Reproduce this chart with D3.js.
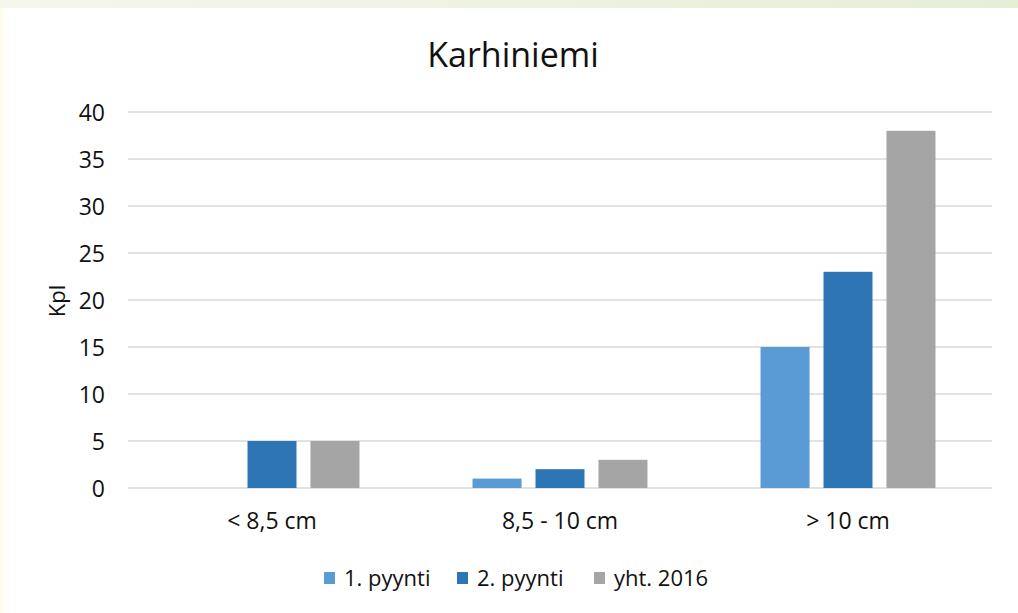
<!DOCTYPE html>
<html>
<head>
<meta charset="utf-8">
<script src="https://cdn.jsdelivr.net/npm/d3@7"></script>
<style>
  body { margin: 0; background: #fff; }
  text { font-family: "Open Sans", "Noto Sans", sans-serif; fill: #111; }
</style>
</head>
<body>
<svg id="canvas" width="1018" height="613"></svg>
<script>
const categories = ["< 8,5 cm", "8,5 - 10 cm", "> 10 cm"];
const seriesNames = ["1. pyynti", "2. pyynti", "yht. 2016"];
const seriesColors = ["#5b9bd5", "#2e75b6", "#a5a5a5"];
const pyynti1 = [0, 1, 15];
const pyynti2 = [5, 2, 23];
const yht2016 = [5, 3, 38];
const yTicks = [0, 5, 10, 15, 20, 25, 30, 35, 40];

const seriesValues = [pyynti1, pyynti2, yht2016];

const canvas = d3.select("#canvas");

// top band and left strip of the slide
const grad = canvas.append("defs").append("linearGradient").attr("id", "band");
grad.append("stop").attr("offset", "0%").attr("stop-color", "#f5f6ee");
grad.append("stop").attr("offset", "100%").attr("stop-color", "#e7eed6");
canvas.append("rect").attr("x", 0).attr("y", 0).attr("width", 1018).attr("height", 8).attr("fill", "url(#band)");
canvas.append("rect").attr("x", 0).attr("y", 8).attr("width", 3).attr("height", 605).attr("fill", "#fffde9");

const x0 = d3.scaleBand().domain(categories).range([128, 992]).paddingInner(0.344).paddingOuter(0.172);
const x1 = d3.scaleBand().domain(seriesNames).range([0, x0.bandwidth()]).paddingInner(0.222).paddingOuter(0.111);
const y = d3.scaleLinear().domain([0, 40]).range([488, 112]);

// gridlines
canvas.append("g")
  .selectAll("line")
  .data(yTicks)
  .enter()
  .append("line")
  .attr("x1", 128)
  .attr("x2", 992)
  .attr("y1", (d) => y(d))
  .attr("y2", (d) => y(d))
  .attr("stroke", "#d9d9d9")
  .attr("stroke-width", 1.5);

// y axis labels
const yAxis = d3.axisLeft(y).tickValues(yTicks).tickSize(0).tickPadding(0);
const yG = canvas.append("g").attr("transform", "translate(105,0)").call(yAxis);
yG.select(".domain").remove();
yG.selectAll("text").style("font-size", "23px").attr("dy", "0.35em").attr("fill", "#111");

// bars
const rows = categories.map((c, i) => ({
  category: c,
  values: seriesNames.map((s, j) => ({ series: s, value: seriesValues[j][i], color: seriesColors[j] })),
}));

const block = canvas
  .selectAll("g.group")
  .data(rows)
  .enter()
  .append("g")
  .attr("class", "group")
  .attr("transform", (d) => `translate(${x0(d.category)},0)`);

block
  .selectAll("rect")
  .data((d) => d.values.filter((v) => v.value > 0))
  .enter()
  .append("rect")
  .attr("x", (d) => x1(d.series))
  .attr("y", (d) => y(d.value))
  .attr("width", x1.bandwidth())
  .attr("height", (d) => y(0) - y(d.value))
  .attr("fill", (d) => d.color);

// x axis labels
const xAxis = d3.axisBottom(x0).tickSize(0).tickPadding(0);
const xG = canvas.append("g").attr("transform", "translate(0,521)").call(xAxis);
xG.select(".domain").remove();
xG.selectAll("text").style("font-size", "23px").attr("dy", "0.35em").attr("fill", "#111");

// title
canvas.append("text")
  .attr("x", 513)
  .attr("y", 67)
  .attr("text-anchor", "middle")
  .style("font-size", "34px")
  .text("Karhiniemi");

// y label
canvas.append("text")
  .attr("transform", "translate(65,301) rotate(-90)")
  .attr("text-anchor", "middle")
  .style("font-size", "22px")
  .text("Kpl");

// legend
const legendX = [324, 457, 594];
const legend = canvas
  .selectAll("g.legend")
  .data(seriesNames)
  .enter()
  .append("g")
  .attr("class", "legend")
  .attr("transform", (d, i) => `translate(${legendX[i]},578)`);
legend.append("rect").attr("x", 0).attr("y", -6).attr("width", 11).attr("height", 12)
  .attr("fill", (d, i) => seriesColors[i]);
legend.append("text").attr("x", 20).attr("dy", "0.35em").style("font-size", "22px").text((d) => d);
</script>
</body>
</html>
